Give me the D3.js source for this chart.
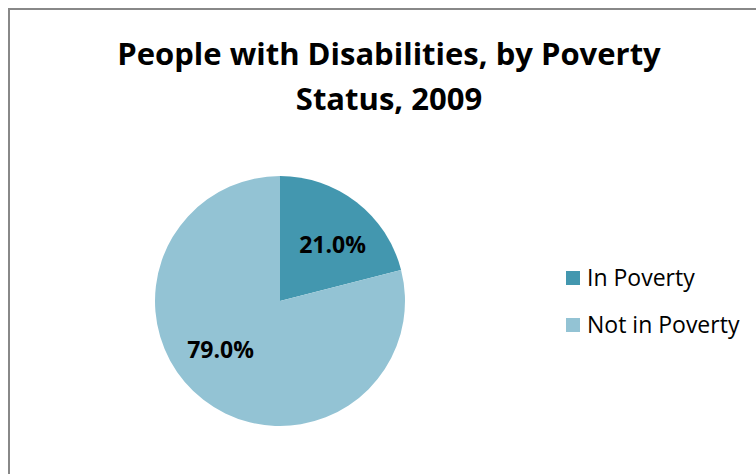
<!DOCTYPE html>
<html>
<head>
<meta charset="utf-8">
<script src="https://cdn.jsdelivr.net/npm/d3@7"></script>
<style>
  html, body { margin: 0; padding: 0; background: #fff; }
  svg { display: block; }
</style>
</head>
<body>
<svg id="chart" width="756" height="474"></svg>
<script>
// Poverty status shares (percent) among people with disabilities, 2009
const categories = ["In Poverty", "Not in Poverty"];
const values = [21.0, 79.0];
const colors = ["#4397AF", "#93C3D4"];
const titleLines = ["People with Disabilities, by Poverty", "Status, 2009"];

const svg = d3.select("#chart");
const font = "'Open Sans', 'DejaVu Sans', sans-serif";

// chart frame (right and bottom edges run past the view)
svg.append("rect")
  .attr("x", 9).attr("y", 9)
  .attr("width", 800).attr("height", 600)
  .attr("fill", "#fff")
  .attr("stroke", "#888")
  .attr("stroke-width", 2);

// title
svg.append("text")
  .attr("text-anchor", "middle")
  .attr("font-family", font)
  .attr("font-weight", "bold")
  .attr("font-size", 31)
  .attr("fill", "#000")
  .selectAll("tspan")
  .data(titleLines)
  .join("tspan")
  .attr("x", 389)
  .attr("y", (d, i) => 65 + i * 45)
  .text(d => d);

// pie
const cx = 280, cy = 301, r = 125;
const pie = d3.pie().sort(null).value(d => d.value);
const data = categories.map((c, i) => ({ name: c, value: values[i], color: colors[i] }));
const arcs = pie(data);
const arc = d3.arc().innerRadius(0).outerRadius(r);
const labelArc = d3.arc().innerRadius(r * 0.62).outerRadius(r * 0.62);
// small nudges applied to the label centroids for readability
const labelNudge = [[5, 5], [-12, -12]];

const g = svg.append("g").attr("transform", `translate(${cx},${cy})`);
g.selectAll("path")
  .data(arcs)
  .join("path")
  .attr("d", arc)
  .attr("fill", d => d.data.color);

g.selectAll("text.lbl")
  .data(arcs)
  .join("text")
  .attr("class", "lbl")
  .attr("transform", (d, i) => {
    const [x, y] = labelArc.centroid(d);
    return `translate(${x + labelNudge[i][0]},${y + labelNudge[i][1]})`;
  })
  .attr("text-anchor", "middle")
  .attr("dy", "0.35em")
  .attr("font-family", font)
  .attr("font-weight", "bold")
  .attr("font-size", 23)
  .attr("fill", "#000")
  .text(d => d.data.value.toFixed(1) + "%");

// legend
const legend = svg.append("g").attr("transform", "translate(566,271)");
const item = legend.selectAll("g")
  .data(data)
  .join("g")
  .attr("transform", (d, i) => `translate(0,${i * 47})`);
item.append("rect")
  .attr("width", 14).attr("height", 14)
  .attr("fill", d => d.color);
item.append("text")
  .attr("x", 21).attr("y", 15)
  .attr("font-family", font)
  .attr("font-size", 23)
  .attr("fill", "#000")
  .text(d => d.name);
</script>
</body>
</html>
